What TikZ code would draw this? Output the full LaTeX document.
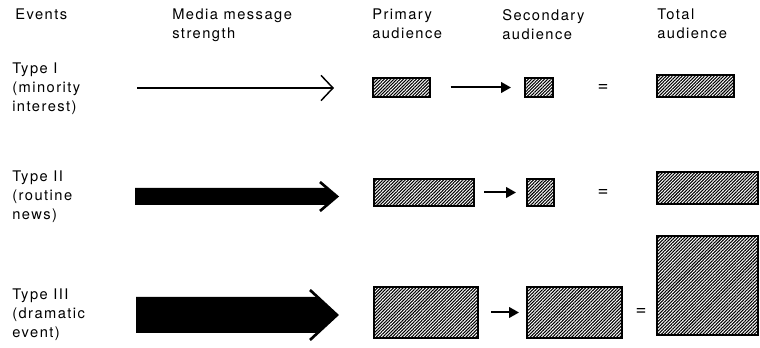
\documentclass[tikz,border=0pt]{standalone}
\usepackage{fontspec}
\setmainfont{TeX Gyre Heros}[LetterSpace=10]
\usetikzlibrary{arrows.meta,patterns.meta}
\begin{document}
\begin{tikzpicture}[x=0.75pt,y=-0.75pt,
  txt/.style={font=\fontsize{11}{14.25}\selectfont, align=left, inner sep=0pt},
  head/.style={txt, anchor=north west},
  event/.style={txt, anchor=west},
  audbox/.style={draw, line width=1.5pt, inner sep=0pt,
    pattern={Lines[angle=45,distance=1.7pt,line width=0.8pt]}},
  boxsize/.style 2 args={minimum width=#1*0.75pt, minimum height=#2*0.75pt},
  flow/.style={line width=1.5pt, -{Triangle[length=7.5pt,width=8pt]}},
  eq/.style={font=\fontsize{14}{14}\selectfont, inner sep=0pt},
  thinarrow/.style={line width=1.1pt, -{Straight Barb[length=9pt,width=19pt,line width=1.1pt]}},
  chev/.style={line width=2pt, miter limit=10}
]
\useasboundingbox (0,0) rectangle (760,348);

% column headings
\node[head] (hEv)  at (15,9)  {Events};
\node[head] (hMed) at (172,9) {Media message\\strength};
\node[head] (hPri) at (372,9) {Primary\\audience};
\node[head] (hSec) at (502,9) {Secondary\\audience};
\node[head] (hTot) at (657,9) {Total\\audience};

% event types
\node[event] (e1) at (12,89)  {Type I\\(minority\\interest)};
\node[event] (e2) at (12,197) {Type II\\(routine\\news)};
\node[event] (e3) at (12,315) {Type III\\(dramatic\\event)};

% media message strength
\coordinate (m1s) at (137,88);
\coordinate (m1e) at (334,88);
\draw[thinarrow] (m1s) -- (m1e);

\coordinate (m2s) at (135,196.5);
\coordinate (m2e) at (337,196.5);
\fill (m2s) ++(0,-8.5) -- ++(192,0) -- (m2e) -- ++(-10,8.5) -- ++(-192,0) -- cycle;
\draw[chev] (m2e) ++(-17,-14.5) -- (m2e) -- ++(-17,14.5);

\coordinate (m3s) at (136,315);
\coordinate (m3e) at (337,315);
\fill (m3s) ++(0,-18) -- ++(180,0) -- (m3e) -- ++(-21,18) -- ++(-180,0) -- cycle;
\draw[chev] (m3e) ++(-27,-25) -- (m3e) -- ++(-27,25);

% audiences, type I
\node[audbox, boxsize={57}{19}] (p1) at (401.5,87.5) {};
\node[audbox, boxsize={28}{19}] (s1) at (539,87.5) {};
\node[audbox, boxsize={77}{22}] (t1) at (695.5,86) {};
\node[eq] (q1) at (603,88) {=};
\draw[flow, shorten <=15pt, shorten >=9.75pt] (p1.east) -- (s1.west);

% audiences, type II
\node[audbox, boxsize={100}{27}] (p2) at (424,192.5) {};
\node[audbox, boxsize={27}{27}] (s2) at (540.5,192.5) {};
\node[audbox, boxsize={101}{32}] (t2) at (707.5,188) {};
\node[eq] (q2) at (603,193) {=};
\draw[flow, shorten <=6.75pt, shorten >=7.5pt] (p2.east) -- (s2.west);

% audiences, type III
\node[audbox, boxsize={104}{51}] (p3) at (426,312.5) {};
\node[audbox, boxsize={95}{51}] (s3) at (574.5,312.5) {};
\node[audbox, boxsize={101}{99}] (t3) at (707.5,285.5) {};
\node[eq] (q3) at (641,312) {=};
\draw[flow, shorten <=9pt, shorten >=5.25pt] (p3.east) -- (s3.west);
\end{tikzpicture}
\end{document}
